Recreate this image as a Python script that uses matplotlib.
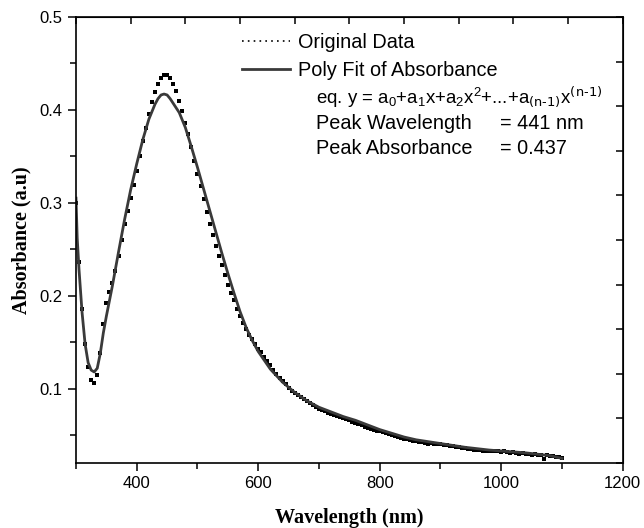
import matplotlib
matplotlib.use("Agg")
import matplotlib.pyplot as plt
from matplotlib.lines import Line2D
import numpy as np

# measured absorbance, 5 nm steps from 300 to 1100 nm
wavelength = np.arange(300, 1105, 5)
absorbance = [
    0.300, 0.236, 0.186, 0.148, 0.123, 0.109, 0.106, 0.115, 0.138, 0.170,
    0.192, 0.204, 0.214, 0.227, 0.243, 0.260, 0.277, 0.291, 0.305, 0.319,
    0.334, 0.350, 0.366, 0.381, 0.396, 0.408, 0.419, 0.428, 0.434, 0.437,
    0.437, 0.434, 0.428, 0.420, 0.410, 0.399, 0.386, 0.374, 0.360, 0.345,
    0.331, 0.318, 0.304, 0.290, 0.277, 0.265, 0.254, 0.243, 0.233, 0.222,
    0.212, 0.203, 0.195, 0.186, 0.178, 0.171, 0.164, 0.158, 0.153, 0.148,
    0.143, 0.139, 0.134, 0.130, 0.125, 0.120, 0.116, 0.112, 0.108, 0.105,
    0.101, 0.098, 0.095, 0.093, 0.091, 0.089, 0.087, 0.085, 0.082, 0.080,
    0.078, 0.077, 0.076, 0.074, 0.073, 0.072, 0.071, 0.070, 0.068, 0.067,
    0.066, 0.064, 0.063, 0.062, 0.061, 0.059, 0.058, 0.057, 0.056, 0.055,
    0.054, 0.053, 0.052, 0.051, 0.050, 0.049, 0.048, 0.047, 0.046, 0.0455,
    0.045, 0.044, 0.0435, 0.043, 0.0425, 0.042, 0.041, 0.0415, 0.041, 0.0405,
    0.040, 0.0395, 0.039, 0.0385, 0.038, 0.037, 0.0375, 0.0365, 0.036, 0.0355,
    0.035, 0.0345, 0.034, 0.0345, 0.033, 0.0325, 0.033, 0.0325, 0.033, 0.0325,
    0.032, 0.0325, 0.0315, 0.031, 0.0315, 0.031, 0.030, 0.0305, 0.030, 0.0295,
    0.029, 0.0295, 0.029, 0.0285, 0.0245, 0.029, 0.028, 0.0275, 0.027, 0.026,
    0.025,
]

# polynomial fit curve
wl_fit = [300, 302, 305, 310, 315, 320, 325, 330, 335, 340, 345, 350, 360,
          370, 380, 390, 400, 410, 420, 430, 435, 440, 445, 450, 455, 460,
          470, 480, 490, 500, 510, 520, 530, 540, 550, 560, 570, 580, 590,
          600, 620, 640, 660, 680, 700, 720, 740, 760, 780, 800, 820, 840,
          860, 880, 900, 920, 940, 960, 980, 1000, 1020, 1040, 1060, 1080, 1100]
abs_fit = [0.305, 0.262, 0.228, 0.182, 0.148, 0.128, 0.120, 0.118, 0.122, 0.138,
           0.160, 0.178, 0.211, 0.247, 0.282, 0.314, 0.342, 0.368, 0.390, 0.406,
           0.412, 0.416, 0.417, 0.416, 0.412, 0.407, 0.397, 0.381, 0.360, 0.338,
           0.315, 0.292, 0.269, 0.246, 0.224, 0.203, 0.183, 0.166, 0.152, 0.140,
           0.121, 0.107, 0.096, 0.087, 0.080, 0.075, 0.070, 0.066, 0.061, 0.056,
           0.052, 0.048, 0.045, 0.043, 0.041, 0.039, 0.037, 0.0355, 0.034, 0.033,
           0.032, 0.031, 0.0295, 0.028, 0.025]

plt.rcParams['font.family'] = ['Liberation Sans', 'DejaVu Sans']
plt.rcParams['mathtext.default'] = 'regular'

fig = plt.figure(figsize=(6.44, 5.28), dpi=100)
ax = fig.add_axes([0.118, 0.123, 0.849, 0.845])

ax.plot(wavelength, absorbance, linestyle='none', marker='s', markersize=2.2,
        color='black', markeredgewidth=0)
ax.plot(wl_fit, abs_fit, color='#3a3a3a', linewidth=2.0)

ax.set_xlim(300, 1200)
ax.set_ylim(0.02, 0.5)
ax.set_xticks([400, 600, 800, 1000, 1200])
ax.set_xticks(np.arange(300, 1201, 100), minor=True)
ax.set_yticks([0.1, 0.2, 0.3, 0.4, 0.5])
ax.set_yticks(np.arange(0.05, 0.51, 0.05), minor=True)
ax.tick_params(which='both', direction='out', top=False, right=False,
               width=1.1, labelsize=12)
ax.tick_params(which='major', length=6)
ax.tick_params(which='minor', length=4)
for s in ax.spines.values():
    s.set_linewidth(1.2)

# unlabelled top / right scales with 10 divisions, ticks pointing in
top = ax.secondary_xaxis('top', functions=(lambda x: (x - 300) / 90.0,
                                           lambda t: t * 90.0 + 300))
top.set_xticks(np.arange(0, 11))
top.tick_params(direction='in', length=5, width=1.1, labeltop=False)
right = ax.secondary_yaxis('right', functions=(lambda y: (y - 0.02) / 0.048,
                                               lambda t: t * 0.048 + 0.02))
right.set_yticks(np.arange(0, 11))
right.tick_params(direction='in', length=5, width=1.1, labelright=False)

ax.set_xlabel('Wavelength (nm)', family='Liberation Serif', fontweight='bold',
              fontsize=14.5, labelpad=12)
ax.set_ylabel('Absorbance (a.u)', family='Liberation Serif', fontweight='bold',
              fontsize=14.5, labelpad=6)

fs = 14.3
handles = [Line2D([], [], color='black', linestyle=(0, (1, 2.5)), linewidth=1.2),
           Line2D([], [], color='#3a3a3a', linewidth=2.0)]
ax.legend(handles, ['Original Data', 'Poly Fit of Absorbance'],
          loc='upper left', bbox_to_anchor=(0.3035, 0.963), frameon=False,
          fontsize=fs, handlelength=2.4, handletextpad=0.4,
          labelspacing=0.45, borderpad=0, borderaxespad=0)

ax.text(0.439, 0.822,
        r'eq. y = a$_0$+a$_1$x+a$_2$x$^2$+...+a$_{\text{(n-1)}}$x$^{\text{(n-1)}}$',
        transform=ax.transAxes, fontsize=13.4, va='center')
ax.text(0.439, 0.762, 'Peak Wavelength', transform=ax.transAxes,
        fontsize=fs, va='center')
ax.text(0.775, 0.762, '= 441 nm', transform=ax.transAxes,
        fontsize=fs, va='center')
ax.text(0.439, 0.704, 'Peak Absorbance', transform=ax.transAxes,
        fontsize=fs, va='center')
ax.text(0.775, 0.704, '= 0.437', transform=ax.transAxes,
        fontsize=fs, va='center')

fig.savefig('out.png', dpi=100)
